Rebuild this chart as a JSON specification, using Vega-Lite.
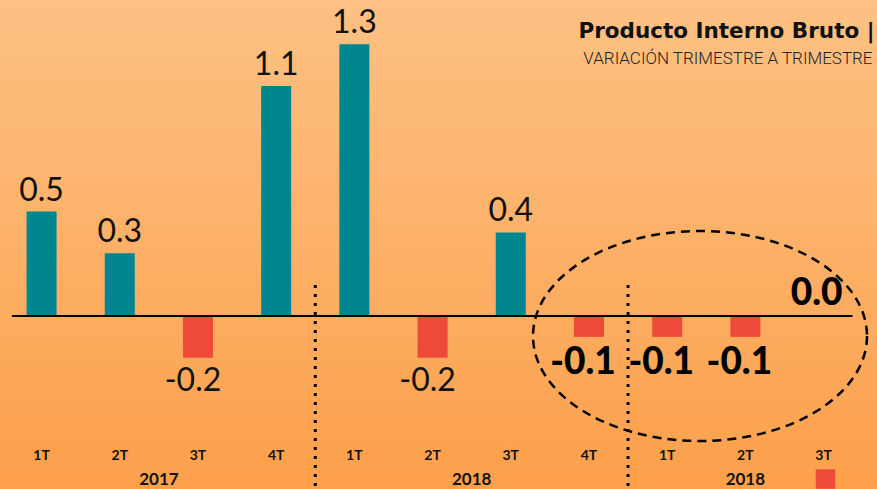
{
  "$schema": "https://vega.github.io/schema/vega-lite/v6.json",
  "width": 877,
  "height": 489,
  "autosize": "none",
  "padding": 0,
  "background": "#fcb066",
  "config": {
    "view": {"stroke": null},
    "locale": {"number": {"decimal": ".", "thousands": ",", "grouping": [3], "currency": ["$", ""], "minus": "-"}}
  },
  "datasets": {
    "pib": [
      {"i": 0, "trimestre": "1T", "anio": "2017", "grupo": 1, "valor": 0.5},
      {"i": 1, "trimestre": "2T", "anio": "2017", "grupo": 1, "valor": 0.3},
      {"i": 2, "trimestre": "3T", "anio": "2017", "grupo": 1, "valor": -0.2},
      {"i": 3, "trimestre": "4T", "anio": "2017", "grupo": 1, "valor": 1.1},
      {"i": 4, "trimestre": "1T", "anio": "2018", "grupo": 2, "valor": 1.3},
      {"i": 5, "trimestre": "2T", "anio": "2018", "grupo": 2, "valor": -0.2},
      {"i": 6, "trimestre": "3T", "anio": "2018", "grupo": 2, "valor": 0.4},
      {"i": 7, "trimestre": "4T", "anio": "2018", "grupo": 2, "valor": -0.1},
      {"i": 8, "trimestre": "1T", "anio": "2018", "grupo": 3, "valor": -0.1},
      {"i": 9, "trimestre": "2T", "anio": "2018", "grupo": 3, "valor": -0.1},
      {"i": 10, "trimestre": "3T", "anio": "2018", "grupo": 3, "valor": 0.0}
    ]
  },
  "layer": [
    {
      "data": {"values": [{}]},
      "mark": {"type": "rect", "color": {"gradient": "linear", "x1": 0, "y1": 0, "x2": 0, "y2": 1, "stops": [{"offset": 0, "color": "#fdc184"}, {"offset": 1, "color": "#fca04b"}]}},
      "encoding": {"x": {"value": 0}, "x2": {"value": "width"}, "y": {"value": 0}, "y2": {"value": "height"}}
    },
    {
      "data": {"values": [{"sep": 3.5}, {"sep": 7.5}]},
      "mark": {"type": "rule", "color": "#000000", "strokeWidth": 3, "strokeDash": [3, 6]},
      "encoding": {
        "x": {"field": "sep", "type": "quantitative", "axis": null, "scale": {"domain": [-0.4678, 10.6195], "nice": false, "zero": false}},
        "y": {"datum": 0.148, "type": "quantitative", "axis": null, "scale": {"domain": [-0.8278, 1.512], "nice": false, "zero": false}},
        "y2": {"datum": -0.83}
      }
    },
    {
      "data": {"name": "pib"},
      "mark": {"type": "bar", "width": 30},
      "encoding": {
        "x": {"field": "i", "type": "quantitative", "axis": null, "scale": {"domain": [-0.4678, 10.6195], "nice": false, "zero": false}},
        "y": {"field": "valor", "type": "quantitative", "axis": null, "scale": {"domain": [-0.8278, 1.512], "nice": false, "zero": false}},
        "y2": {"datum": 0},
        "color": {"condition": {"test": "datum.valor < 0", "value": "#ee4a3a"}, "value": "#00868f"}
      }
    },
    {
      "data": {"values": [{}]},
      "mark": {"type": "rule", "color": "#000000", "strokeWidth": 2},
      "encoding": {
        "x": {"datum": -0.38, "type": "quantitative", "axis": null, "scale": {"domain": [-0.4678, 10.6195], "nice": false, "zero": false}},
        "x2": {"datum": 10.37},
        "y": {"datum": 0, "type": "quantitative", "axis": null, "scale": {"domain": [-0.8278, 1.512], "nice": false, "zero": false}}
      }
    },
    {
      "data": {"values": [{}]},
      "mark": {"type": "point", "shape": "M 1 0 C 1 0.3472 0.5523 0.6287 0 0.6287 C -0.5523 0.6287 -1 0.3472 -1 0 C -1 -0.3472 -0.5523 -0.6287 0 -0.6287 C 0.5523 -0.6287 1 -0.3472 1 0 Z", "size": 111556, "filled": false, "stroke": "#000000", "strokeWidth": 2.5, "strokeDash": [9, 6], "opacity": 1},
      "encoding": {
        "x": {"datum": 8.42, "type": "quantitative", "axis": null, "scale": {"domain": [-0.4678, 10.6195], "nice": false, "zero": false}},
        "y": {"datum": -0.0957, "type": "quantitative", "axis": null, "scale": {"domain": [-0.8278, 1.512], "nice": false, "zero": false}}
      }
    },
    {
      "data": {"name": "pib"},
      "transform": [{"filter": "datum.i < 7 && datum.valor > 0"}],
      "mark": {"type": "text", "font": "Lato", "fontSize": 32, "color": "#111111", "baseline": "alphabetic", "dy": -11},
      "encoding": {
        "x": {"field": "i", "type": "quantitative", "axis": null, "scale": {"domain": [-0.4678, 10.6195], "nice": false, "zero": false}},
        "y": {"field": "valor", "type": "quantitative", "axis": null, "scale": {"domain": [-0.8278, 1.512], "nice": false, "zero": false}},
        "text": {"field": "valor", "type": "quantitative", "format": ".1f"}
      }
    },
    {
      "data": {"name": "pib"},
      "transform": [{"filter": "datum.i < 7 && datum.valor < 0"}],
      "mark": {"type": "text", "font": "Lato", "fontSize": 32, "color": "#111111", "baseline": "alphabetic", "dy": 33, "dx": -5},
      "encoding": {
        "x": {"field": "i", "type": "quantitative", "axis": null, "scale": {"domain": [-0.4678, 10.6195], "nice": false, "zero": false}},
        "y": {"field": "valor", "type": "quantitative", "axis": null, "scale": {"domain": [-0.8278, 1.512], "nice": false, "zero": false}},
        "text": {"field": "valor", "type": "quantitative", "format": ".1f"}
      }
    },
    {
      "data": {"name": "pib"},
      "transform": [{"filter": "datum.i >= 7 && datum.valor < 0"}],
      "mark": {"type": "text", "font": "Lato", "fontWeight": 900, "fontSize": 37, "color": "#000000", "baseline": "alphabetic", "dy": 37, "dx": -6},
      "encoding": {
        "x": {"field": "i", "type": "quantitative", "axis": null, "scale": {"domain": [-0.4678, 10.6195], "nice": false, "zero": false}},
        "y": {"field": "valor", "type": "quantitative", "axis": null, "scale": {"domain": [-0.8278, 1.512], "nice": false, "zero": false}},
        "text": {"field": "valor", "type": "quantitative", "format": ".1f"}
      }
    },
    {
      "data": {"name": "pib"},
      "transform": [{"filter": "datum.i >= 7 && datum.valor >= 0"}],
      "mark": {"type": "text", "font": "Lato", "fontWeight": 900, "fontSize": 37, "color": "#000000", "baseline": "alphabetic", "dy": -11, "dx": -7},
      "encoding": {
        "x": {"field": "i", "type": "quantitative", "axis": null, "scale": {"domain": [-0.4678, 10.6195], "nice": false, "zero": false}},
        "y": {"field": "valor", "type": "quantitative", "axis": null, "scale": {"domain": [-0.8278, 1.512], "nice": false, "zero": false}},
        "text": {"field": "valor", "type": "quantitative", "format": ".1f"}
      }
    },
    {
      "data": {"name": "pib"},
      "mark": {"type": "text", "font": "Lato", "fontWeight": "bold", "fontSize": 14, "color": "#111111", "baseline": "alphabetic"},
      "encoding": {
        "x": {"field": "i", "type": "quantitative", "axis": null, "scale": {"domain": [-0.4678, 10.6195], "nice": false, "zero": false}},
        "y": {"datum": -0.689, "type": "quantitative", "axis": null, "scale": {"domain": [-0.8278, 1.512], "nice": false, "zero": false}},
        "text": {"field": "trimestre"}
      }
    },
    {
      "data": {"name": "pib"},
      "transform": [{"aggregate": [{"op": "mean", "field": "i", "as": "centro"}], "groupby": ["grupo", "anio"]}],
      "mark": {"type": "text", "font": "Lato", "fontWeight": "bold", "fontSize": 17, "color": "#111111", "baseline": "alphabetic"},
      "encoding": {
        "x": {"field": "centro", "type": "quantitative", "axis": null, "scale": {"domain": [-0.4678, 10.6195], "nice": false, "zero": false}},
        "y": {"datum": -0.8086, "type": "quantitative", "axis": null, "scale": {"domain": [-0.8278, 1.512], "nice": false, "zero": false}},
        "text": {"field": "anio"}
      }
    },
    {
      "data": {"values": [{}]},
      "mark": {"type": "point", "shape": "square", "size": 380, "filled": true, "color": "#ee4a3a", "opacity": 1},
      "encoding": {
        "x": {"datum": 10.025, "type": "quantitative", "axis": null, "scale": {"domain": [-0.4678, 10.6195], "nice": false, "zero": false}},
        "y": {"datum": -0.78, "type": "quantitative", "axis": null, "scale": {"domain": [-0.8278, 1.512], "nice": false, "zero": false}}
      }
    },
    {
      "data": {"values": [{"titulo": "Producto Interno Bruto |"}]},
      "mark": {"type": "text", "font": "DejaVu Sans", "fontWeight": "bold", "fontSize": 21.5, "color": "#111111", "align": "left", "baseline": "alphabetic"},
      "encoding": {
        "x": {"datum": 6.865, "type": "quantitative", "axis": null, "scale": {"domain": [-0.4678, 10.6195], "nice": false, "zero": false}},
        "y": {"datum": 1.33, "type": "quantitative", "axis": null, "scale": {"domain": [-0.8278, 1.512], "nice": false, "zero": false}},
        "text": {"field": "titulo"}
      }
    },
    {
      "data": {"values": [{"subtitulo": "VARIACIÓN TRIMESTRE A TRIMESTRE"}]},
      "mark": {"type": "text", "font": "Roboto", "fontWeight": 300, "fontSize": 17, "color": "#222222", "align": "left", "baseline": "alphabetic"},
      "encoding": {
        "x": {"datum": 6.928, "type": "quantitative", "axis": null, "scale": {"domain": [-0.4678, 10.6195], "nice": false, "zero": false}},
        "y": {"datum": 1.2057, "type": "quantitative", "axis": null, "scale": {"domain": [-0.8278, 1.512], "nice": false, "zero": false}},
        "text": {"field": "subtitulo"}
      }
    }
  ]
}
